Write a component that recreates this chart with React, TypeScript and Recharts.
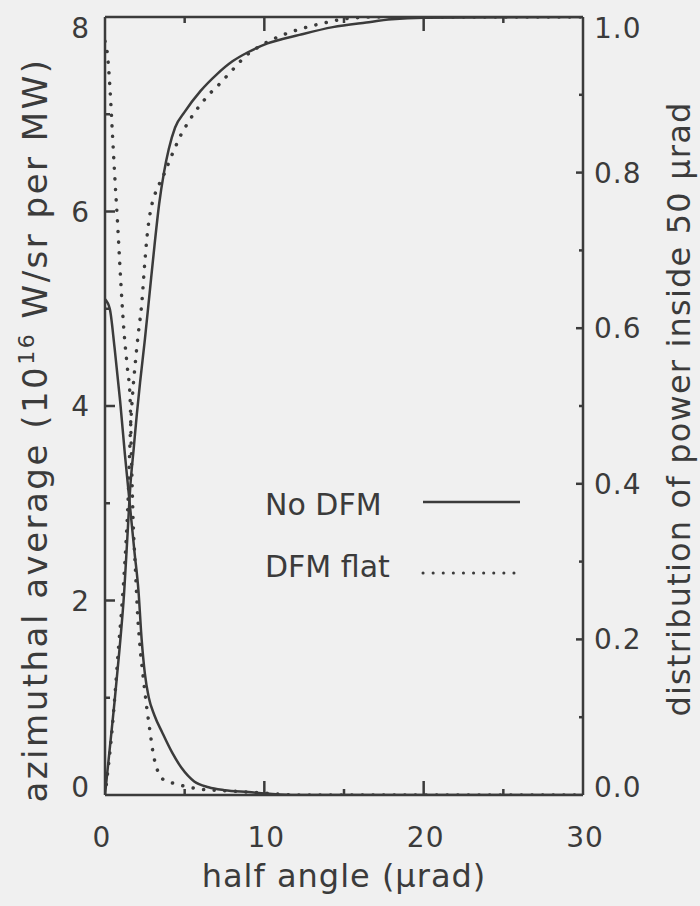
import React from 'react';
import { LineChart, Line, XAxis, YAxis, Legend, Label } from 'recharts';

const INK = '#3b3b3b';
const FONT = '"DejaVu Sans", Verdana, sans-serif';

// half angle (µrad) -> azimuthal average (1e16 W/sr per MW)
const avgNoDfmTheta = [0, 0.3, 0.6, 0.95, 1.25, 1.55, 1.85, 2.1, 2.3, 2.5, 2.75, 3.1, 3.6, 4.2, 4.8, 5.6, 6.5, 7.5, 9, 10.5, 12, 20, 30];
const avgNoDfm = [5.1, 5.0, 4.6, 4.05, 3.5, 3.0, 2.5, 2.1, 1.6, 1.25, 1.0, 0.82, 0.64, 0.44, 0.28, 0.14, 0.08, 0.05, 0.03, 0.01, 0, 0, 0];

const avgFlatTheta = [0, 0.15, 0.3, 0.45, 0.6, 0.8, 1.0, 1.2, 1.4, 1.57, 1.67, 1.77, 1.9, 2.05, 2.2, 2.4, 2.62, 2.82, 3.0, 3.3, 3.65, 4.3, 5, 6, 8, 10, 12, 30];
const avgFlat = [7.75, 7.62, 7.3, 6.85, 6.4, 5.85, 5.25, 4.75, 4.4, 4.1, 3.4, 2.8, 2.35, 1.85, 1.52, 1.21, 0.9, 0.66, 0.45, 0.25, 0.16, 0.12, 0.09, 0.06, 0.04, 0.02, 0, 0];

// half angle (µrad) -> fraction of power inside 50 µrad
const encNoDfmTheta = [0, 0.3, 0.6, 0.9, 1.2, 1.4, 1.6, 1.8, 2.0, 2.2, 2.5, 2.8, 3.1, 3.4, 3.7, 4.0, 4.4, 5.0, 6.0, 7.0, 8.0, 9.0, 10.2, 12.2, 14.3, 16.4, 18, 20, 30];
const encNoDfm = [0, 0.06, 0.12, 0.185, 0.26, 0.33, 0.4, 0.445, 0.49, 0.53, 0.585, 0.645, 0.705, 0.76, 0.8, 0.83, 0.858, 0.878, 0.905, 0.926, 0.943, 0.955, 0.966, 0.977, 0.987, 0.993, 0.997, 0.999, 1.0];

const encFlatTheta = [0, 0.2, 0.45, 0.65, 0.85, 1.05, 1.25, 1.45, 1.6, 1.75, 1.9, 2.1, 2.3, 2.5, 2.65, 2.85, 3.1, 3.4, 3.75, 4.1, 4.4, 4.7, 5.0, 5.65, 6.1, 6.6, 7.1, 8.0, 8.9, 9.6, 10.4, 12, 13.7, 15.2, 17, 30];
const encFlat = [0, 0.035, 0.085, 0.135, 0.19, 0.24, 0.3, 0.38, 0.47, 0.52, 0.555, 0.595, 0.63, 0.685, 0.72, 0.75, 0.77, 0.785, 0.8, 0.818, 0.832, 0.846, 0.857, 0.878, 0.89, 0.902, 0.912, 0.932, 0.951, 0.961, 0.97, 0.983, 0.992, 0.998, 1.0, 1.0];

const xTicks = [0, 5, 10, 15, 20, 25, 30];
const xLabels = [0, 10, 20, 30];
const leftTicks = [0, 1, 2, 3, 4, 5, 6, 7, 8];
const leftLabels = [0, 2, 4, 6, 8];
const rightTicks = [0, 0.1, 0.2, 0.3, 0.4, 0.5, 0.6, 0.7, 0.8, 0.9, 1.0];
const legendOrder = ['No DFM', 'DFM flat'];

const toPoints = (t: number[], v: number[]) => t.map((theta, i) => ({ theta, v: v[i] }));

const tickText = { fill: INK, fontSize: 28, fontFamily: FONT, letterSpacing: 1 };

const BottomTick = (props: any) => {
  const { x, y, payload, top } = props;
  const v = payload.value;
  const len = v % 10 === 0 ? 14 : 6;
  const edge = v === 0 || v === 30;
  const dir = top ? 1 : -1;
  return (
    <g>
      {!edge && <line x1={x} y1={y} x2={x} y2={y + dir * len} stroke={INK} strokeWidth={2.5} />}
      {!top && xLabels.includes(v) && (
        <text x={x + (v === 0 ? -3 : 2)} y={y + 52} textAnchor="middle" {...tickText}>{v}</text>
      )}
    </g>
  );
};

const LeftTick = (props: any) => {
  const { x, y, payload } = props;
  const v = payload.value;
  const len = v % 2 === 0 ? 10 : 5;
  const dy = v === 8 ? 11 : v === 0 ? -8 : 0;
  return (
    <g>
      {v > 0 && v < 8 && <line x1={x} y1={y} x2={x + len} y2={y} stroke={INK} strokeWidth={2.5} />}
      {leftLabels.includes(v) && (
        <text x={x - 15} y={y + dy} dy="0.36em" textAnchor="end" {...tickText}>{v}</text>
      )}
    </g>
  );
};

const RightTick = (props: any) => {
  const { x, y, payload } = props;
  const v = payload.value;
  const n = Math.round(v * 10);
  const len = n % 2 === 0 ? 7 : 4;
  const dy = n === 10 ? 11 : n === 0 ? -8 : 0;
  return (
    <g>
      {n > 0 && n < 10 && <line x1={x} y1={y} x2={x - len} y2={y} stroke={INK} strokeWidth={2.5} />}
      {n % 2 === 0 && (
        <text x={x + 11} y={y + dy} dy="0.36em" textAnchor="start" {...tickText}>{v.toFixed(1)}</text>
      )}
    </g>
  );
};

const LegendBox = (props: any) => {
  const items = (props.payload || [])
    .filter((p: any) => legendOrder.includes(p.value))
    .sort((a: any, b: any) => legendOrder.indexOf(a.value) - legendOrder.indexOf(b.value));
  return (
    <svg width={290} height={120} style={{ overflow: 'visible' }}>
      {items.map((item: any, i: number) => {
        const dashed = i === 1;
        const base = i === 0 ? 45 : 107;
        return (
          <g key={item.value}>
            <text x={5} y={base} fill={INK} fontSize={30} fontFamily={FONT}>{item.value}</text>
            <line
              x1={163} x2={dashed ? 255 : 260} y1={base - (dashed ? 4 : 13)} y2={base - (dashed ? 4 : 13)}
              stroke={INK} strokeWidth={dashed ? 3 : 2.5}
              strokeDasharray={dashed ? '0.1 10' : undefined} strokeLinecap={dashed ? 'round' : 'butt'}
            />
          </g>
        );
      })}
    </svg>
  );
};

export default function App() {
  const axisLine = { stroke: INK, strokeWidth: 2.5 };
  return (
    <div style={{ position: 'fixed', left: 0, top: 0, width: 700, height: 906, background: '#f0f0f0' }}>
      <LineChart width={700} height={906} margin={{ top: 16, right: 116, bottom: 110, left: 104 }}>
        <XAxis
          xAxisId="b" dataKey="theta" type="number" domain={[0, 30]} ticks={xTicks} interval={0}
          allowDataOverflow height={1} tickSize={0} tickMargin={0} tickLine={false}
          axisLine={axisLine} tick={<BottomTick />}
        >
          <Label
            content={(p: any) => {
              const vb = p.viewBox;
              return (
                <text x={vb.x + vb.width / 2} y={vb.y + 92} textAnchor="middle" fill={INK}
                  fontSize={32} fontFamily={FONT} letterSpacing={1}>
                  half angle (μrad)
                </text>
              );
            }}
          />
        </XAxis>
        <XAxis
          xAxisId="t" orientation="top" dataKey="theta" type="number" domain={[0, 30]} ticks={xTicks}
          interval={0} allowDataOverflow height={1} tickSize={0} tickMargin={0} tickLine={false}
          axisLine={axisLine} tick={<BottomTick top />}
        />
        <YAxis
          yAxisId="l" type="number" domain={[0, 8]} ticks={leftTicks} interval={0} allowDataOverflow
          width={1} tickSize={0} tickMargin={0} tickLine={false} axisLine={axisLine} tick={<LeftTick />}
        >
          <Label
            content={(p: any) => {
              const vb = p.viewBox;
              const cx = vb.x + vb.width - 58;
              const cy = 430;
              return (
                <text x={cx} y={cy} transform={`rotate(-90 ${cx} ${cy})`} textAnchor="middle" fill={INK}
                  fontSize={34} fontFamily={FONT} letterSpacing={2.5}>
                  azimuthal average (10<tspan dy={-13} fontSize={22}>16</tspan>
                  <tspan dy={13}> W/sr per MW)</tspan>
                </text>
              );
            }}
          />
        </YAxis>
        <YAxis
          yAxisId="r" orientation="right" type="number" domain={[0, 1]} ticks={rightTicks} interval={0}
          allowDataOverflow width={1} tickSize={0} tickMargin={0} tickLine={false} axisLine={axisLine}
          tick={<RightTick />}
        >
          <Label
            content={(p: any) => {
              const vb = p.viewBox;
              const cx = vb.x + 107;
              const cy = 409;
              return (
                <text x={cx} y={cy} transform={`rotate(-90 ${cx} ${cy})`} textAnchor="middle" fill={INK}
                  fontSize={32} fontFamily={FONT} letterSpacing={1.2}>
                  distribution of power inside 50 μrad
                </text>
              );
            }}
          />
        </YAxis>

        <Line
          xAxisId="b" yAxisId="l" data={toPoints(avgNoDfmTheta, avgNoDfm)} dataKey="v" name="No DFM"
          type="monotone" stroke={INK} strokeWidth={2.5} dot={false} activeDot={false} isAnimationActive={false}
        />
        <Line
          xAxisId="b" yAxisId="l" data={toPoints(avgFlatTheta, avgFlat)} dataKey="v" name="DFM flat"
          type="monotone" stroke={INK} strokeWidth={3.5} strokeDasharray="0.1 10.5" strokeLinecap="round"
          dot={false} activeDot={false} isAnimationActive={false}
        />
        <Line
          xAxisId="b" yAxisId="r" data={toPoints(encNoDfmTheta, encNoDfm)} dataKey="v" name="No DFM enc"
          legendType="none" type="monotone" stroke={INK} strokeWidth={2.5} dot={false} activeDot={false}
          isAnimationActive={false}
        />
        <Line
          xAxisId="b" yAxisId="r" data={toPoints(encFlatTheta, encFlat)} dataKey="v" name="DFM flat enc"
          legendType="none" type="monotone" stroke={INK} strokeWidth={3.5} strokeDasharray="0.1 10.5"
          strokeLinecap="round" dot={false} activeDot={false} isAnimationActive={false}
        />

        <Legend
          layout="horizontal" verticalAlign="middle" align="center" content={<LegendBox />}
          wrapperStyle={{ left: 260, top: 470, width: 290, height: 120 }}
        />
      </LineChart>
    </div>
  );
}
